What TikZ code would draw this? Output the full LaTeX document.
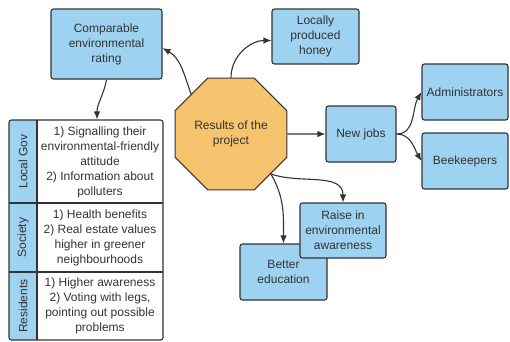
\documentclass[tikz,border=0pt]{standalone}
\usepackage{fontspec}
\setmainfont{Liberation Sans}
\usetikzlibrary{shapes.geometric,arrows.meta}
\definecolor{bx}{HTML}{9DD2F1}
\definecolor{oc}{HTML}{F6C36E}
\definecolor{ln}{HTML}{333333}
\begin{document}
\begin{tikzpicture}[x=1pt,y=1pt,
  txt/.style={text=ln,align=center,font=\fontsize{12}{15}\selectfont,inner sep=0pt},
  box/.style={txt,draw=ln,fill=bx,line width=1.1pt,rounded corners=2.5pt},
  con/.style={draw=ln,line width=1.1pt,-{Latex[length=8pt,width=6.5pt]}}]
\useasboundingbox (0,0) rectangle (510,-341);

% boxes
\node[box,minimum width=111pt,minimum height=70pt] (rating) at (106.5,-44) {Comparable\\environmental\\rating};
\node[box,minimum width=87pt,minimum height=55pt] (honey) at (315.5,-36.5) {Locally\\produced\\honey};
\node[box,minimum width=70pt,minimum height=56pt] (jobs) at (361,-134) {New jobs};
\node[box,minimum width=86pt,minimum height=56pt] (admin) at (465,-92) {Administrators};
\node[box,minimum width=86pt,minimum height=56pt] (bee) at (465,-161) {Beekeepers};
\node[box,minimum width=87pt,minimum height=56pt] (better) at (283.5,-272) {Better\\education};
\node[box,minimum width=86pt,minimum height=55pt] (raise) at (343,-230.5) {Raise in\\environmental\\awareness};

% octagon
\node[txt,regular polygon,regular polygon sides=8,minimum size=121pt,draw=ln,fill=oc,line width=1.1pt] (oct) at (231,-134) {Results of the\\project};

% table
\fill[bx,rounded corners=2.5pt] (37,-120) -- (9,-120) -- (9,-340) [sharp corners] -- (37,-340) -- cycle;
\draw[ln,line width=1.1pt] (37,-120) -- (37,-340);
\draw[ln,line width=1.1pt] (9,-203) -- (163,-203);
\draw[ln,line width=1.1pt] (9,-272) -- (163,-272);
\node[draw=ln,line width=1.1pt,rounded corners=2.5pt,minimum width=154pt,minimum height=220pt,inner sep=0pt] (tbl) at (86,-230) {};

\node[txt,rotate=90] (l1) at (23,-161.5) {Local Gov};
\node[txt,rotate=90] (l2) at (23,-237.5) {Society};
\node[txt,rotate=90] (l3) at (23,-306) {Residents};

\node[txt] (c1) at (100,-162.5) {1) Signalling their\\environmental-friendly\\attitude\\2) Information about\\polluters};
\node[txt] (c2) at (100,-237.5) {1) Health benefits\\2) Real estate values\\higher in greener\\neighbourhoods};
\node[txt] (c3) at (100,-306) {1) Higher awareness\\2) Voting with legs,\\pointing out possible\\problems};

% connectors
\draw[con] (oct.135) to[out=110,in=-30] ([yshift=-4pt]rating.east);
\draw[con] (oct.north) to[out=90,in=180] ([yshift=-4pt]honey.west);
\draw[con] (rating.south) to[out=-100,in=90] ([xshift=11pt]tbl.north);
\draw[con] (oct.east) -- (jobs.west);
\draw[con] (jobs.east) to[out=0,in=240] (admin.west);
\draw[con] (jobs.east) to[out=0,in=120] (bee.west);
\draw[con] (oct.-45) to[out=-20,in=90] (raise.north);
\draw[con] (oct.-45) to[out=-60,in=90] (better.north);
\end{tikzpicture}
\end{document}
